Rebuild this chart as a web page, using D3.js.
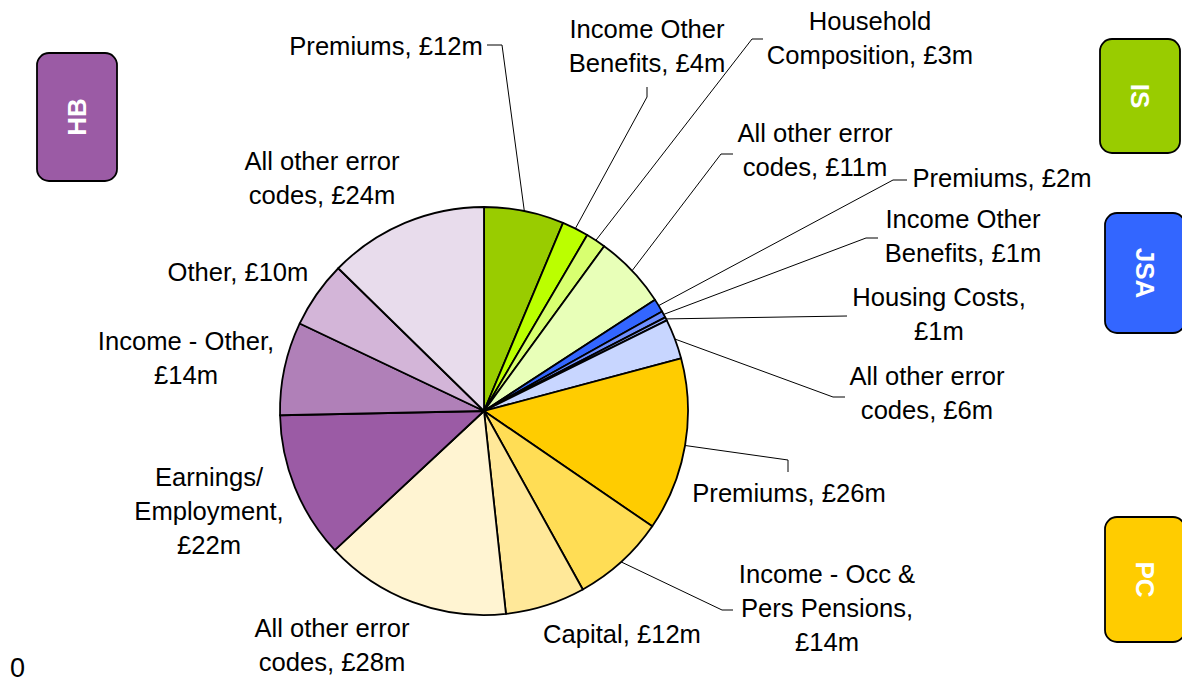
<!DOCTYPE html>
<html>
<head>
<meta charset="utf-8">
<script src="https://cdn.jsdelivr.net/npm/d3@7"></script>
<style>
  body { margin: 0; background: #fff; }
  text { font-family: "Liberation Sans", Arial, sans-serif; }
</style>
</head>
<body>
<script>
// chart size
const w = 1182;
const h = 684;

// the data, clockwise from 12 o'clock
const groups = ["IS", "IS", "IS", "IS", "JSA", "JSA", "JSA", "JSA", "PC", "PC", "PC", "PC", "HB", "HB", "HB", "HB"];
const categories = ["Premiums", "Income Other Benefits", "Household Composition", "All other error codes",
  "Premiums", "Income Other Benefits", "Housing Costs", "All other error codes",
  "Premiums", "Income - Occ & Pers Pensions", "Capital", "All other error codes",
  "Earnings/ Employment", "Income - Other", "Other", "All other error codes"];
const values = [12, 4, 3, 11, 2, 1, 0.5, 6, 26, 14, 12, 28, 22, 14, 10, 24];
const labelLines = [
  ["Premiums, £12m"], ["Income Other", "Benefits, £4m"], ["Household", "Composition, £3m"], ["All other error", "codes, £11m"],
  ["Premiums, £2m"], ["Income Other", "Benefits, £1m"], ["Housing Costs,", "£1m"], ["All other error", "codes, £6m"],
  ["Premiums, £26m"], ["Income - Occ &", "Pers Pensions,", "£14m"], ["Capital, £12m"], ["All other error", "codes, £28m"],
  ["Earnings/", "Employment,", "£22m"], ["Income - Other,", "£14m"], ["Other, £10m"], ["All other error", "codes, £24m"]
];
const sliceColours = ["#99cc00", "#bbff00", "#d8ff70", "#e8ffb8",
  "#3366ff", "#6f8fff", "#9aafff", "#c8d6ff",
  "#ffcc00", "#ffdd55", "#ffe899", "#fff4d2",
  "#9b5ba5", "#b080b8", "#d3b5d8", "#e8dcec"];

const legendGroups = ["HB", "IS", "JSA", "PC"];
const legendColours = ["#9b5ba5", "#99cc00", "#3366ff", "#ffcc00"];

// layout: label centre x, first baseline y, leader elbow points
const labelPos = [
  { x: 386, y: 55, leader: [[502, 45], [487, 45]] },
  { x: 647, y: 38, leader: [[647, 97], [647, 87]] },
  { x: 870, y: 30, leader: [[752, 39], [763, 39]] },
  { x: 815, y: 142, leader: [[721, 154], [733, 154]] },
  { x: 1002, y: 187, leader: [[893, 180], [907, 180]] },
  { x: 963, y: 228, leader: [[866, 238], [878, 238]] },
  { x: 939, y: 306, leader: [[847, 316]] },
  { x: 927, y: 385, leader: [[833, 397], [845, 397]] },
  { x: 789, y: 502, leader: [[788, 460], [788, 472]] },
  { x: 827, y: 583, leader: [[722, 610], [733, 610]] },
  { x: 622, y: 643, leader: null },
  { x: 332, y: 637, leader: null },
  { x: 209, y: 486, leader: null },
  { x: 186, y: 350, leader: null },
  { x: 238, y: 281, leader: null },
  { x: 322, y: 170, leader: null }
];
const legendPos = [
  { x: 37, y: 53, w: 80, h: 128, rot: -90 },
  { x: 1100, y: 39, w: 80, h: 114, rot: 90 },
  { x: 1105, y: 213, w: 80, h: 120, rot: 90 },
  { x: 1105, y: 517, w: 80, h: 125, rot: 90 }
];

const cx = 484, cy = 411, r = 204;
const lineH = 34;

const svg = d3.select("body").append("svg")
    .attr("width", w)
    .attr("height", h);

const pie = d3.pie().sort(null).value(d => d)(values);
const arc = d3.arc().innerRadius(0).outerRadius(r);
const edge = d3.arc().innerRadius(r).outerRadius(r);

const g = svg.append("g").attr("transform", `translate(${cx},${cy})`);

g.selectAll("path")
    .data(pie)
    .enter()
    .append("path")
    .attr("d", arc)
    .attr("fill", (d, i) => sliceColours[i])
    .attr("stroke", "#000")
    .attr("stroke-width", 1.8)
    .attr("stroke-linejoin", "round");

// leader lines
const line = d3.line();
pie.forEach((d, i) => {
  const lp = labelPos[i];
  if (!lp.leader) return;
  const c = edge.centroid(d);
  const pts = [[cx + c[0], cy + c[1]]].concat(lp.leader);
  svg.append("path")
      .attr("d", line(pts))
      .attr("fill", "none")
      .attr("stroke", "#000")
      .attr("stroke-width", 1);
});

// data labels
labelLines.forEach((lines, i) => {
  const t = svg.append("text")
      .attr("text-anchor", "middle")
      .attr("font-size", 25.6)
      .attr("fill", "#000");
  lines.forEach((s, j) => {
    t.append("tspan")
        .attr("x", labelPos[i].x)
        .attr("y", labelPos[i].y + j * lineH)
        .text(s);
  });
});

// group legend boxes
legendGroups.forEach((name, i) => {
  const p = legendPos[i];
  svg.append("rect")
      .attr("x", p.x).attr("y", p.y)
      .attr("width", p.w).attr("height", p.h)
      .attr("rx", 12).attr("ry", 12)
      .attr("fill", legendColours[i])
      .attr("stroke", "#000")
      .attr("stroke-width", 1.8);
  const mx = p.x + p.w / 2, my = p.y + p.h / 2;
  svg.append("text")
      .attr("transform", `translate(${mx},${my}) rotate(${p.rot})`)
      .attr("text-anchor", "middle")
      .attr("dy", "0.36em")
      .attr("font-size", 26)
      .attr("font-weight", "bold")
      .attr("fill", "#fff")
      .text(name);
});

svg.append("text")
    .attr("x", 10)
    .attr("y", 677)
    .attr("font-size", 27)
    .text("0");
</script>
</body>
</html>
